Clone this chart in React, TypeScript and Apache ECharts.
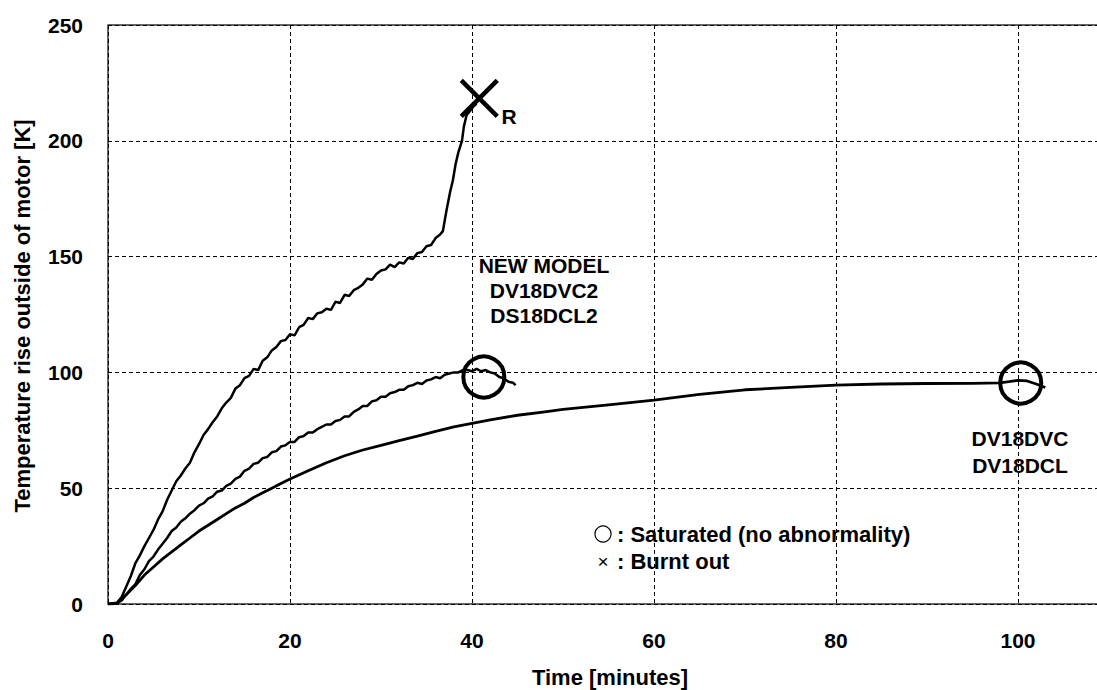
import React, { useEffect, useRef } from "react";
import * as echarts from "echarts";

// Time [minutes], temperature rise [K]
const burntOutCurve: [number, number][] = [
  [0, 0], [0.5, 0], [1, 0.5], [1.5, 3], [2, 7.5], [2.5, 12], [3, 17.5], [3.5, 21], [4, 25], [4.5, 28.5],
  [5, 32], [5.5, 36.5], [6, 40], [6.5, 45], [7, 49], [7.5, 53], [8, 55.5], [8.5, 58.5], [9, 61], [9.5, 65.5],
  [10, 69], [10.5, 73], [11, 75.5], [11.5, 78.5], [12, 81], [12.5, 84.5], [13, 87], [13.5, 89], [14, 93], [14.5, 94.5],
  [15, 97.5], [15.5, 98.5], [16, 101.5], [16.5, 101], [17, 105], [17.5, 106.5], [18, 109.5], [18.5, 111], [19, 113.5], [19.5, 114],
  [20, 116.5], [20.5, 116], [21, 119.5], [21.5, 120.5], [22, 123.5], [22.5, 123], [23, 125.5], [23.5, 126], [24, 127.5], [24.5, 127],
  [25, 130.5], [25.5, 130], [26, 133.5], [26.5, 133], [27, 135.5], [27.5, 136.5], [28, 138], [28.5, 140.5], [29, 140], [29.5, 142.5],
  [30, 144], [30.5, 144.5], [31, 146.5], [31.5, 145.5], [32, 147.5], [32.5, 147], [33, 149.5], [33.5, 149], [34, 151.5], [34.5, 152],
  [35, 154.5], [35.5, 155], [36, 158], [36.5, 159.5], [36.8, 161], [37.2, 170], [37.6, 178], [37.9, 183], [38.2, 190], [38.5, 195],
  [38.9, 200], [39.1, 206], [39.4, 211], [39.8, 213], [40.2, 215], [40.5, 216],
];

const newModelCurve: [number, number][] = [
  [0, 0], [0.5, 0], [1, 0.3], [1.5, 1.5], [2, 4], [2.5, 6.5], [3, 8.5], [3.5, 12.5], [4, 15], [4.5, 18.5],
  [5, 20.5], [5.5, 23.5], [6, 26], [6.5, 28.5], [7, 31.5], [7.5, 33], [8, 35.5], [8.5, 37], [9, 39], [9.5, 40.5],
  [10, 42.5], [10.5, 43.5], [11, 45.5], [11.5, 46.5], [12, 48.5], [12.5, 49], [13, 51], [13.5, 52], [14, 54], [14.5, 55],
  [15, 57.5], [15.5, 58.5], [16, 60.5], [16.5, 61], [17, 63], [17.5, 63.5], [18, 65.5], [18.5, 66], [19, 68], [19.5, 68.5],
  [20, 70], [20.5, 70], [21, 72], [21.5, 72.5], [22, 74], [22.5, 74], [23, 75.5], [23.5, 76.5], [24, 77.5], [24.5, 77.5],
  [25, 79], [25.5, 79.5], [26, 81], [26.5, 81], [27, 83], [27.5, 84], [28, 85.5], [28.5, 85.5], [29, 87.5], [29.5, 88],
  [30, 89.5], [30.5, 89.5], [31, 91], [31.5, 91.5], [32, 92.5], [32.5, 92.5], [33, 94], [33.5, 94.5], [34, 95.5], [34.5, 95],
  [35, 96.5], [35.5, 97], [36, 98], [36.5, 97.5], [37, 99], [37.5, 99.5], [38, 100], [38.5, 100], [39, 101], [39.5, 101],
  [40, 100.5], [40.5, 101.5], [41, 100.5], [41.5, 101], [42, 100], [42.5, 99.5], [43, 98], [43.5, 97.5], [44, 96], [44.5, 95.5],
  [44.8, 94.5],
];

const oldModelCurve: [number, number][] = [
  [0, 0], [1, 0.5], [2, 4], [3, 8], [4, 12.5], [5, 16], [6, 19.5], [7, 22.5], [8, 25.5], [9, 28.5],
  [10, 31.5], [11, 34], [12, 36.5], [13, 39], [14, 41.5], [15, 43.5], [16, 46], [17, 48], [18, 50], [19, 52],
  [20, 54], [22, 57.5], [24, 61], [26, 64], [28, 66.5], [30, 68.5], [32, 70.5], [34, 72.5], [36, 74.5], [38, 76.5],
  [40, 78], [42, 79.5], [45, 81.5], [48, 83], [50, 84], [55, 86], [60, 88], [65, 90.5], [70, 92.5], [75, 93.5],
  [80, 94.5], [85, 95], [90, 95.2], [95, 95.3], [98, 95.5], [99, 96], [100, 96.6], [101, 96.3], [102, 95], [103, 93.5],
];

const saturatedPoints: [number, number][] = [[41.3, 98], [100.3, 95.4]];
const burntPoints: [number, number][] = [[40.8, 218.3]];

const xTickInterval = 20;
const yTickInterval = 50;

const FONT = '"Liberation Sans", Arial, sans-serif';

export default function App() {
  const ref = useRef<HTMLDivElement>(null);
  useEffect(() => {
    if (!ref.current) return;
    const chart = echarts.init(ref.current, undefined, { renderer: "svg" });
    const lineStyle = { color: "#000", width: 2.5 };
    chart.setOption({
      animation: false,
      backgroundColor: "#fff",
      grid: {
        left: 108,
        top: 25,
        width: 1001,
        height: 579,
        show: true,
        borderColor: "#333",
        borderWidth: 1.5,
        backgroundColor: "rgba(0,0,0,0)",
      },
      xAxis: {
        type: "value",
        min: 0,
        max: 110,
        interval: xTickInterval,
        axisLine: { show: false },
        axisTick: { show: false },
        axisLabel: {
          margin: 26,
          color: "#000",
          fontFamily: FONT,
          fontWeight: "bold",
          fontSize: 21,
          formatter: (v: number) => (v > 100 ? "" : String(v)),
        },
        splitLine: { show: true, lineStyle: { color: "#000", width: 1, type: [4, 3] } },
      },
      yAxis: {
        type: "value",
        min: 0,
        max: 250,
        interval: yTickInterval,
        axisLine: { show: false },
        axisTick: { show: false },
        axisLabel: {
          margin: 25,
          color: "#000",
          fontFamily: FONT,
          fontWeight: "bold",
          fontSize: 21,
        },
        splitLine: { show: true, lineStyle: { color: "#000", width: 1, type: [4, 3] } },
      },
      series: [
        { type: "line", data: oldModelCurve, showSymbol: false, lineStyle: { ...lineStyle, width: 2.8 }, z: 3 },
        { type: "line", data: newModelCurve, showSymbol: false, lineStyle, z: 3 },
        { type: "line", data: burntOutCurve, showSymbol: false, lineStyle, z: 3 },
        {
          type: "scatter",
          data: saturatedPoints,
          symbol: "circle",
          symbolSize: 41,
          itemStyle: { color: "rgba(255,255,255,0)", borderColor: "#000", borderWidth: 4, opacity: 1 },
          z: 5,
        },
        {
          type: "scatter",
          data: burntPoints,
          symbol: "path://M0 0L10 10M10 0L0 10",
          symbolSize: 36,
          itemStyle: { color: "rgba(255,255,255,0)", borderColor: "#000", borderWidth: 4.5, opacity: 1 },
          z: 5,
        },
      ],
      graphic: [
        {
          type: "text",
          x: 22,
          y: 316,
          rotation: Math.PI / 2,
          style: {
            text: "Temperature rise outside of motor [K]",
            fontFamily: FONT,
            fontWeight: "bold",
            fontSize: 22,
            fill: "#000",
            align: "center",
            verticalAlign: "middle",
          },
        },
        {
          type: "text",
          x: 610,
          y: 677,
          style: {
            text: "Time [minutes]",
            fontFamily: FONT,
            fontWeight: "bold",
            fontSize: 22,
            fill: "#000",
            align: "center",
            verticalAlign: "middle",
          },
        },
        ...[
          ["NEW MODEL", 544, 265],
          ["DV18DVC2", 544, 290],
          ["DS18DCL2", 544, 315],
          ["DV18DVC", 1020, 438],
          ["DV18DCL", 1020, 465],
          ["R", 509, 116],
        ].map(([t, x, y]) => ({
          type: "text",
          x: x as number,
          y: y as number,
          z: 10,
          style: {
            text: t as string,
            fontFamily: FONT,
            fontWeight: "bold",
            fontSize: 21,
            fill: "#000",
            align: "center",
            verticalAlign: "middle",
          },
        })),
        {
          type: "circle",
          shape: { cx: 603, cy: 534, r: 8 },
          style: { fill: "none", stroke: "#000", lineWidth: 1.2 },
          z: 10,
        },
        {
          type: "text",
          x: 603,
          y: 561,
          z: 10,
          style: { text: "×", fontFamily: FONT, fontSize: 19, fill: "#000", align: "center", verticalAlign: "middle" },
        },
        ...[
          [": Saturated (no abnormality)", 534],
          [": Burnt out", 561],
        ].map(([t, y]) => ({
          type: "text",
          x: 617,
          y: y as number,
          z: 10,
          style: {
            text: t as string,
            fontFamily: FONT,
            fontWeight: "bold",
            fontSize: 22,
            fill: "#000",
            align: "left",
            verticalAlign: "middle",
          },
        })),
      ],
    });
    return () => chart.dispose();
  }, []);
  return (
    <div style={{ position: "absolute", left: 0, top: 0, width: 1097, height: 690, overflow: "hidden", background: "#fff" }}>
      <div ref={ref} style={{ width: 1130, height: 690 }} />
    </div>
  );
}
